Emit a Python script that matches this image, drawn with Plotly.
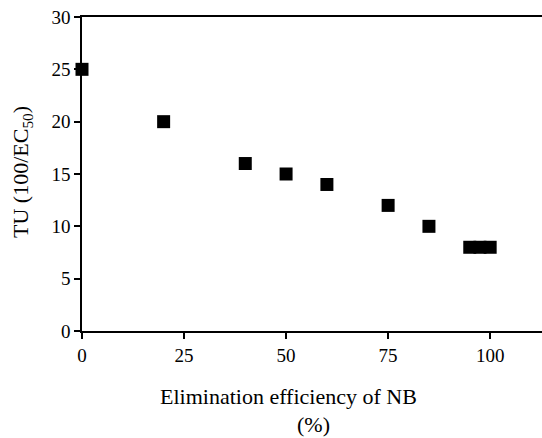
import plotly.graph_objects as go

elimination = [0, 20, 40, 50, 60, 75, 85, 95, 97.5, 100]
tu = [25, 20, 16, 15, 14, 12, 10, 8, 8, 8]
x_ticks = [0, 25, 50, 75, 100]
y_ticks = [0, 5, 10, 15, 20, 25, 30]

FONT = "Liberation Serif, Times New Roman, serif"

fig = go.Figure()
fig.add_trace(go.Scatter(
    x=elimination, y=tu, mode="markers",
    marker=dict(symbol="square", size=13, color="black", line=dict(width=0)),
    cliponaxis=False, showlegend=False,
))

axis_common = dict(
    showgrid=False, zeroline=False, showline=True, linecolor="black", linewidth=1.5,
    ticks="outside", ticklen=6, tickwidth=1.5, tickcolor="black",
    tickfont=dict(family=FONT, size=19, color="black"),
)
fig.update_xaxes(range=[0, 112.7], tickvals=x_ticks, mirror=True, **axis_common)
fig.update_yaxes(range=[0, 30], tickvals=y_ticks, **axis_common)

fig.add_annotation(text="Elimination efficiency of NB", x=288, y=438 - 396,
                   xref="paper", yref="paper", showarrow=False,
                   font=dict(family=FONT, size=22, color="black"))
fig.add_annotation(text="(%)", x=313, y=438 - 424, xref="paper", yref="paper",
                   showarrow=False, font=dict(family=FONT, size=22, color="black"))
fig.add_annotation(text="TU (100/EC<sub>50</sub>)", x=22, y=438 - 172,
                   xref="paper", yref="paper", showarrow=False, textangle=-90,
                   font=dict(family=FONT, size=22, color="black"))

# convert pixel positions for annotations into paper coords
L, R, T, B = 82, 0, 17, 107
W, H = 542, 438
pw, ph = W - L - R, H - T - B
for a in fig.layout.annotations:
    a.x = (a.x - L) / pw
    a.y = (a.y - B) / ph
    a.xanchor = "center"
    a.yanchor = "middle"

fig.update_layout(
    width=W, height=H, margin=dict(l=L, r=R, t=T, b=B),
    plot_bgcolor="white", paper_bgcolor="white",
)
fig.write_html("out.html")
